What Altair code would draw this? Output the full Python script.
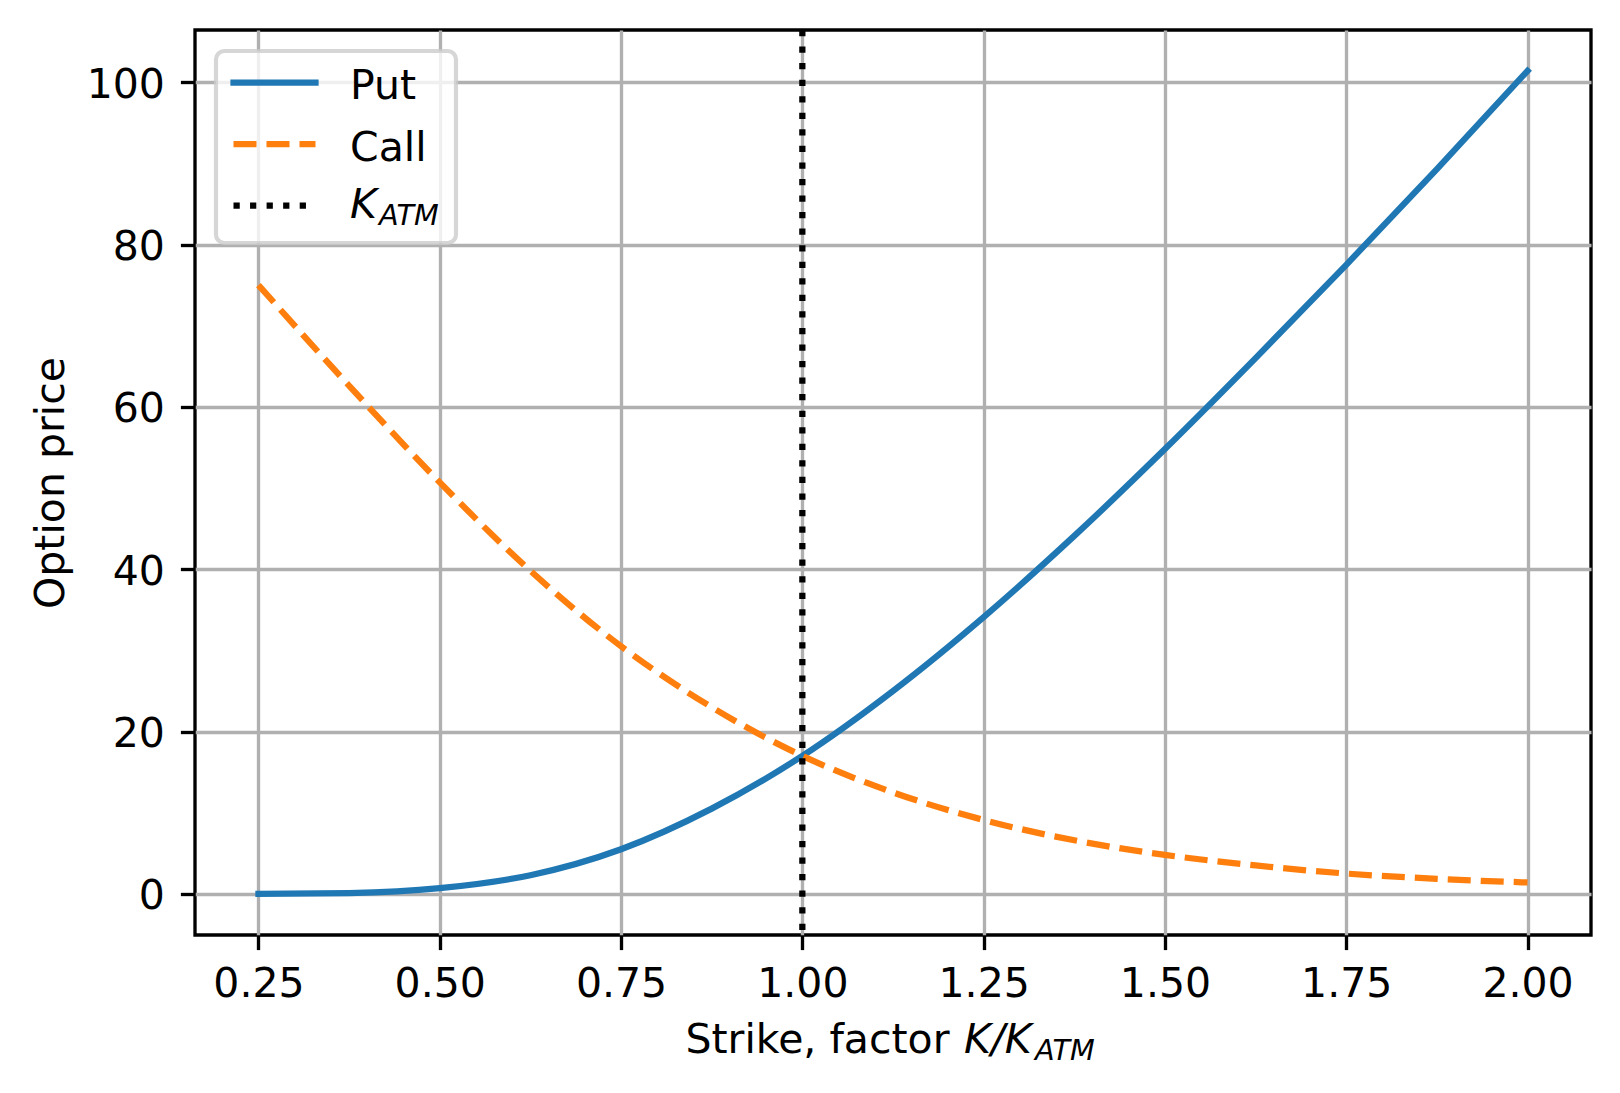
import altair as alt
import pandas as pd

# ---- data ----
strikes = [0.25, 0.375, 0.5, 0.625, 0.75, 0.875, 1.0, 1.125, 1.25, 1.375, 1.5, 1.625, 1.75, 1.875, 2.0]
put_prices = [0.0, 0.1, 0.7, 2.3, 5.5, 10.5, 17.0, 25.0, 34.1, 44.1, 54.8, 66.0, 77.5, 89.3, 101.4]
call_prices = [75.0, 62.6, 50.7, 39.8, 30.5, 23.0, 17.0, 12.5, 9.1, 6.6, 4.8, 3.5, 2.5, 1.85, 1.4]
k_atm = [1.0]
x_ticks = [0.25, 0.5, 0.75, 1.0, 1.25, 1.5, 1.75, 2.0]
y_ticks = [0, 20, 40, 60, 80, 100]
legend_labels = ["Put", "Call"]

FONT = "DejaVu Sans"
FS = 41
SUB = 28.7
LW = 6.25

df_put = pd.DataFrame({"strike": strikes, "price": put_prices})
df_call = pd.DataFrame({"strike": strikes, "price": call_prices})
df_k = pd.DataFrame({"k": k_atm})
one = pd.DataFrame({"a": [0]})

xscale = alt.Scale(domain=[0.1625, 2.0875], nice=False, zero=False)
yscale = alt.Scale(domain=[-5.07, 106.43], nice=False, zero=False)

xaxis = alt.Axis(values=x_ticks, format=".2f", title=None, labelPadding=46.4,
                 labelBaseline="alphabetic", labelFlush=False)
yaxis = alt.Axis(values=y_ticks, format="d", title="Option price", labelPadding=16,
                 titleX=-131.5, titleY=452.5, titleAngle=270, titleAlign="center",
                 titleBaseline="alphabetic", labelBaseline="middle", labelOffset=3)

put_line = alt.Chart(df_put).mark_line(
    color="#1f77b4", strokeWidth=LW, strokeCap="square", interpolate="monotone"
).encode(
    x=alt.X("strike:Q", scale=xscale, axis=xaxis),
    y=alt.Y("price:Q", scale=yscale, axis=yaxis),
)

call_line = alt.Chart(df_call).mark_line(
    color="#ff7f0e", strokeWidth=LW, strokeCap="butt", strokeDash=[23, 10], interpolate="monotone"
).encode(
    x=alt.X("strike:Q", scale=xscale),
    y=alt.Y("price:Q", scale=yscale),
)

vline = alt.Chart(df_k).mark_rule(
    color="black", strokeWidth=LW, strokeDash=[6.25, 10.3], strokeCap="butt"
).encode(x=alt.X("k:Q", scale=xscale))

# ---- x axis title with italic math part ----
xt1 = alt.Chart(one).mark_text(font=FONT, fontSize=FS, align="left", baseline="alphabetic", color="black").encode(
    x=alt.value(490.5), y=alt.value(1023), text=alt.value("Strike, factor "))
xt2 = alt.Chart(one).mark_text(font=FONT, fontSize=FS, fontStyle="italic", align="left", baseline="alphabetic", color="black").encode(
    x=alt.value(769), y=alt.value(1023), text=alt.value("K/K"))
xt3 = alt.Chart(one).mark_text(font=FONT, fontSize=SUB, fontStyle="italic", align="left", baseline="alphabetic", color="black").encode(
    x=alt.value(840), y=alt.value(1030), text=alt.value("ATM"))

# ---- legend ----
leg_box = alt.Chart(one).mark_rect(
    fill="white", fillOpacity=0.8, stroke="#cccccc", strokeOpacity=0.8, strokeWidth=4.17, cornerRadius=8.3
).encode(x=alt.value(21), x2=alt.value(261), y=alt.value(21), y2=alt.value(213))

h_put = alt.Chart(one).mark_rule(color="#1f77b4", strokeWidth=LW, strokeCap="square").encode(
    x=alt.value(38.5), x2=alt.value(120.5), y=alt.value(52.7))
h_call = alt.Chart(one).mark_rule(color="#ff7f0e", strokeWidth=LW, strokeCap="butt", strokeDash=[23, 10]).encode(
    x=alt.value(38.5), x2=alt.value(120.5), y=alt.value(114.2))
h_k = alt.Chart(one).mark_rule(color="black", strokeWidth=LW, strokeCap="butt", strokeDash=[6.25, 10.3]).encode(
    x=alt.value(38.5), x2=alt.value(120.5), y=alt.value(175.7))

t_put = alt.Chart(one).mark_text(font=FONT, fontSize=FS, align="left", baseline="alphabetic", color="black").encode(
    x=alt.value(155), y=alt.value(69.3), text=alt.value(legend_labels[0]))
t_call = alt.Chart(one).mark_text(font=FONT, fontSize=FS, align="left", baseline="alphabetic", color="black").encode(
    x=alt.value(155), y=alt.value(130.7), text=alt.value(legend_labels[1]))
t_k = alt.Chart(one).mark_text(font=FONT, fontSize=FS, fontStyle="italic", align="left", baseline="alphabetic", color="black").encode(
    x=alt.value(155), y=alt.value(187.7), text=alt.value("K"))
t_katm = alt.Chart(one).mark_text(font=FONT, fontSize=SUB, fontStyle="italic", align="left", baseline="alphabetic", color="black").encode(
    x=alt.value(184), y=alt.value(195), text=alt.value("ATM"))

chart = alt.layer(
    put_line, call_line, vline, xt1, xt2, xt3,
    leg_box, h_put, h_call, h_k, t_put, t_call, t_k, t_katm
).properties(
    width=1396, height=905,
    padding={"left": 187, "top": 22, "right": 21, "bottom": 150},
    autosize=alt.AutoSizeParams(type="none"),
    background="white",
).configure_view(
    stroke="black", strokeWidth=3.33
).configure_axis(
    domain=False,
    grid=True, gridColor="#b0b0b0", gridWidth=3.33, gridOpacity=1,
    ticks=True, tickColor="black", tickWidth=3.33, tickSize=14.6,
    labelFont=FONT, labelFontSize=FS, labelColor="black",
    titleFont=FONT, titleFontSize=FS, titleColor="black", titleFontWeight="normal",
)

chart.save("out.html", embed_options={"renderer": "svg", "actions": False})
